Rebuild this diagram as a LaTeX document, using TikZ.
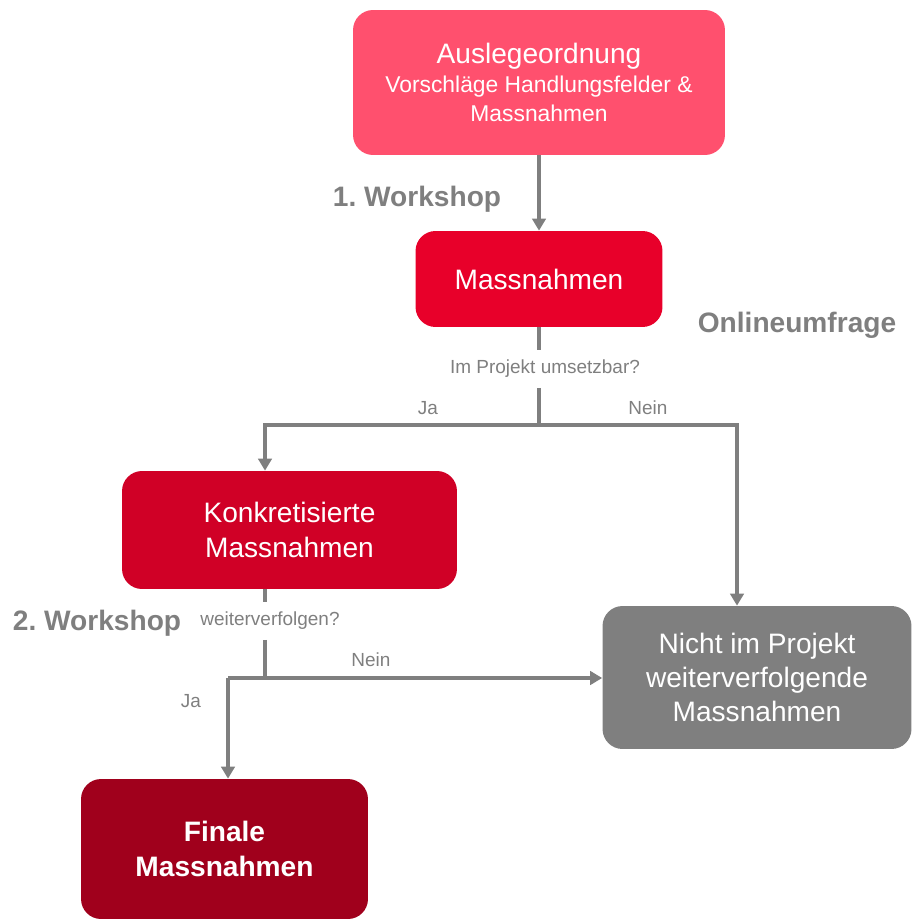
\documentclass[tikz,border=0pt]{standalone}
\usepackage{fontspec}
\setmainfont{Liberation Sans}
\usetikzlibrary{arrows.meta}
\definecolor{auslegrot}{RGB}{255,80,110}
\definecolor{massrot}{RGB}{232,0,42}
\definecolor{konkrot}{RGB}{208,0,38}
\definecolor{finalrot}{RGB}{160,0,28}
\definecolor{grau}{RGB}{127,127,127}
\newcommand{\kleinzeile}[1]{{\fontsize{13}{15}\selectfont #1}}

\begin{document}
\begin{tikzpicture}[x = 0.02cm, y = -0.02cm,
  box/.style = {rectangle, rounded corners = 0.4cm, draw = none, text = white, align = center, font = \fontsize{16}{19.5}\selectfont},
  lbl/.style = {text = grau, font = \fontsize{10.8}{13}\selectfont, inner sep = 0pt},
  frage/.style = {lbl, inner xsep = 2pt, inner ysep = 5.5pt},
  ws/.style = {text = grau, font = \frenchspacing\bfseries\fontsize{16}{19}\selectfont, inner sep = 0pt},
  conn/.style = {draw = grau, line width = 2.2pt},
  pfeil/.style = {conn, -{Triangle[length = 6.8pt, width = 7.6pt]}}]

	\useasboundingbox (0, 0) rectangle (912, 919);

	\node (AO) at (539, 82.5)  [box, fill = auslegrot, minimum width = 7.44cm, minimum height = 2.90cm] {Auslegeordnung\\[-3pt]\kleinzeile{Vorschläge Handlungsfelder \&}\\[-3pt]\kleinzeile{Massnahmen}};
	\node (MN) at (539, 279)   [box, fill = massrot,   minimum width = 4.94cm, minimum height = 1.92cm] {Massnahmen};
	\node (KM) at (289.5, 530) [box, fill = konkrot,   minimum width = 6.70cm, minimum height = 2.36cm] {Konkretisierte\\Massnahmen};
	\node (NP) at (757, 677.5) [box, fill = grau,      minimum width = 6.18cm, minimum height = 2.86cm] {Nicht im Projekt\\weiterverfolgende\\Massnahmen};
	\node (FM) at (224.5, 849) [box, fill = finalrot,  minimum width = 5.74cm, minimum height = 2.80cm, font = \bfseries\fontsize{16}{19.5}\selectfont] {Finale\\Massnahmen};

	\node (WS1) at (417, 199) [ws] {1. Workshop};
	\node (OU)  at (797, 325) [ws] {Onlineumfrage};
	\node (WS2) at (97, 623)  [ws] {2. Workshop};

	\node (Q1)    at (545, 369) [frage] {Im Projekt umsetzbar?};
	\node (Q2)    at (270, 621) [frage] {weiterverfolgen?};
	\node (Ja1)   at (428, 408) [lbl] {Ja};
	\node (Nein1) at (648, 408) [lbl] {Nein};
	\node (Nein2) at (371, 660) [lbl] {Nein};
	\node (Ja2)   at (191, 701) [lbl] {Ja};

	\coordinate (J1)  at (539, 425);
	\coordinate (J1L) at (265, 425);
	\coordinate (J1R) at (737, 425);
	\coordinate (J2)  at (265, 678);
	\coordinate (J2L) at (228, 678);

	\draw [pfeil] (AO.south) -- (AO.south |- MN.north);

	% Onlineumfrage
	\draw [conn] (MN.south -| J1) -- (Q1.north -| J1);
	\draw [conn] (Q1.south -| J1) -- (J1);
	\foreach \via/\to in {J1L/KM, J1R/NP}
		\draw [pfeil] (J1) -- (\via) -- (\via |- \to.north);

	% 2. Workshop
	\draw [conn] (KM.south -| J2) -- (Q2.north -| J2);
	\draw [conn] (Q2.south -| J2) -- (J2);
	\draw [pfeil] (J2L) -- (NP.west |- J2);
	\draw [pfeil] (J2L) -- (J2L |- FM.north);

\end{tikzpicture}
\end{document}
